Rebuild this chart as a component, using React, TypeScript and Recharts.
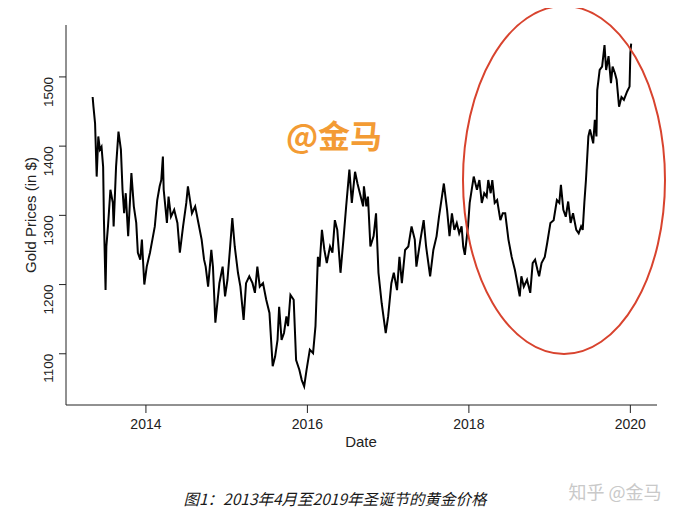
import { Line, LineChart, XAxis, YAxis } from "recharts";

// decimal years, with the matching gold price in $
const dates = [
  2013.34, 2013.35, 2013.37, 2013.39, 2013.41, 2013.43, 2013.45, 2013.47, 2013.48, 2013.5,
  2013.51, 2013.53, 2013.56, 2013.59, 2013.6, 2013.63, 2013.66, 2013.69, 2013.71, 2013.73,
  2013.75, 2013.78, 2013.82, 2013.85, 2013.88, 2013.9, 2013.93, 2013.95, 2013.98, 2014.01,
  2014.05, 2014.08, 2014.11, 2014.14, 2014.17, 2014.19, 2014.21, 2014.22, 2014.26, 2014.28,
  2014.31, 2014.35, 2014.39, 2014.42, 2014.46, 2014.5, 2014.52, 2014.57, 2014.61, 2014.65,
  2014.69, 2014.72, 2014.74, 2014.77, 2014.81, 2014.83, 2014.86, 2014.88, 2014.91, 2014.95,
  2014.98, 2015.01, 2015.04, 2015.07, 2015.1, 2015.14, 2015.17, 2015.21, 2015.24, 2015.28,
  2015.32, 2015.35, 2015.38, 2015.41, 2015.45, 2015.49, 2015.53, 2015.57, 2015.6, 2015.63,
  2015.65, 2015.68, 2015.71, 2015.74, 2015.76, 2015.79, 2015.83, 2015.86, 2015.9, 2015.93,
  2015.96, 2015.99, 2016.03, 2016.07, 2016.1, 2016.13, 2016.15, 2016.18, 2016.21, 2016.24,
  2016.28, 2016.31, 2016.34, 2016.37, 2016.41, 2016.45, 2016.48, 2016.52, 2016.55, 2016.59,
  2016.62, 2016.65, 2016.69, 2016.7, 2016.73, 2016.75, 2016.78, 2016.82, 2016.85, 2016.88,
  2016.92, 2016.97, 2017.0, 2017.04, 2017.07, 2017.11, 2017.14, 2017.17, 2017.21, 2017.25,
  2017.29, 2017.33, 2017.35, 2017.4, 2017.44, 2017.47, 2017.52, 2017.56, 2017.6, 2017.63,
  2017.66, 2017.69, 2017.73, 2017.76, 2017.79, 2017.82, 2017.85, 2017.88, 2017.91, 2017.93,
  2017.95, 2017.99, 2018.01, 2018.06, 2018.1, 2018.13, 2018.16, 2018.19, 2018.22, 2018.24,
  2018.27, 2018.29, 2018.32, 2018.35, 2018.39, 2018.42, 2018.45, 2018.49, 2018.53, 2018.57,
  2018.6, 2018.63, 2018.65, 2018.68, 2018.72, 2018.76, 2018.79, 2018.82, 2018.85, 2018.87,
  2018.9, 2018.94, 2018.97, 2019.01, 2019.05, 2019.09, 2019.12, 2019.14, 2019.17, 2019.2,
  2019.23, 2019.26, 2019.29, 2019.33, 2019.36, 2019.39, 2019.41, 2019.43, 2019.45, 2019.48,
  2019.5, 2019.54, 2019.56, 2019.58, 2019.59, 2019.62, 2019.65, 2019.68, 2019.7, 2019.73,
  2019.76, 2019.78, 2019.81, 2019.83, 2019.86, 2019.89, 2019.92, 2019.96, 2019.99, 2020.0,
  2020.01,
];

const gold = [
  1471, 1457, 1433, 1356, 1414, 1395, 1399, 1370, 1293, 1192,
  1255, 1284, 1337, 1318, 1284, 1370, 1421, 1395, 1337, 1303,
  1332, 1270, 1361, 1313, 1289, 1246, 1236, 1265, 1200, 1226,
  1246, 1265, 1284, 1322, 1342, 1351, 1385, 1337, 1289, 1327,
  1298, 1308, 1289, 1246, 1284, 1318, 1342, 1303, 1313, 1289,
  1265, 1236, 1226, 1197, 1250, 1226, 1145, 1168, 1202, 1226,
  1183, 1207, 1250, 1296, 1255, 1217, 1197, 1149, 1202, 1212,
  1202, 1188, 1226, 1197, 1202, 1178, 1159, 1082, 1096, 1120,
  1168, 1120, 1130, 1154, 1140, 1185, 1178, 1091, 1077, 1062,
  1053, 1077, 1106, 1101, 1140, 1240, 1226, 1279, 1250, 1231,
  1255, 1246, 1293, 1279, 1217, 1270, 1313, 1366, 1318, 1363,
  1346, 1332, 1313, 1342, 1313, 1327, 1255, 1270, 1303, 1217,
  1173, 1130, 1154, 1202, 1217, 1192, 1240, 1202, 1250, 1255,
  1284, 1265, 1226, 1265, 1293, 1255, 1212, 1250, 1270, 1298,
  1322, 1346, 1308, 1270, 1303, 1279, 1289, 1274, 1284, 1255,
  1243, 1285, 1318, 1356, 1337, 1351, 1318, 1332, 1327, 1351,
  1332, 1351, 1318, 1322, 1293, 1303, 1303, 1265, 1240, 1221,
  1202, 1183, 1212, 1197, 1207, 1188, 1231, 1236, 1221, 1212,
  1231, 1240, 1260, 1289, 1293, 1322, 1318, 1344, 1308, 1298,
  1320, 1289, 1303, 1279, 1274, 1284, 1279, 1318, 1351, 1414,
  1424, 1404, 1438, 1414, 1481, 1510, 1515, 1546, 1510, 1530,
  1491, 1515, 1505, 1496, 1457, 1471, 1467, 1479, 1486, 1534,
  1548,
];

const yearTicks = [2014, 2016, 2018, 2020];
const priceTicks = [1100, 1200, 1300, 1400, 1500];

const data = dates.map((t, i) => ({ t, price: gold[i] }));

const FONT = "'Liberation Sans', Arial, sans-serif";
const CJK = "'Noto Sans CJK SC', 'Noto Sans', sans-serif";

function XTick({ x, y, payload }: any) {
  return (
    <text x={x} y={y} dy={14} textAnchor="middle" fontFamily={FONT} fontSize={14} fill="#222">
      {payload.value}
    </text>
  );
}

function YTick({ x, y, payload }: any) {
  return (
    <text
      x={x - 4}
      y={y}
      transform={`rotate(-90 ${x - 4} ${y})`}
      textAnchor="end"
      fontFamily={FONT}
      fontSize={13.5}
      fill="#222"
    >
      {payload.value}
    </text>
  );
}

export default function App() {
  return (
    <div style={{ position: "relative", width: 687, height: 519, margin: -8, background: "#fff" }}>
      <LineChart width={687} height={519} data={data} margin={{ top: 25, right: 30, left: 0, bottom: 84 }}>
        <XAxis
          type="number"
          dataKey="t"
          domain={[2013.01, 2020.33]}
          ticks={yearTicks}
          height={30}
          tickSize={8}
          stroke="#222"
          tick={<XTick />}
          allowDataOverflow
        />
        <YAxis
          type="number"
          domain={[1026, 1575]}
          ticks={priceTicks}
          width={66}
          tickSize={7}
          stroke="#222"
          tick={<YTick />}
          allowDataOverflow
        />
        <Line
          type="linear"
          dataKey="price"
          stroke="#000"
          strokeWidth={2}
          dot={false}
          isAnimationActive={false}
        />
      </LineChart>
      <svg
        width={687}
        height={519}
        style={{ position: "absolute", left: 0, top: 0, pointerEvents: "none" }}
      >
        <text x={361} y={447} textAnchor="middle" fontFamily={FONT} fontSize={15} fill="#222">
          Date
        </text>
        <text
          x={36}
          y={215}
          transform="rotate(-90 36 215)"
          textAnchor="middle"
          fontFamily={FONT}
          fontSize={15}
          fill="#222"
        >
          Gold Prices (in $)
        </text>
        <ellipse cx={564} cy={180} rx={101} ry={174} fill="none" stroke="#D8432E" strokeWidth={2} />
        <text x={334} y={148} textAnchor="middle" fontFamily={CJK} fontWeight={700} fontSize={32} fill="#F39B34">
          @金马
        </text>
        <text
          x={335}
          y={505}
          textAnchor="middle"
          fontFamily={CJK}
          fontStyle="italic"
          fontSize={15.5}
          fill="#1a1a1a"
        >
          图1：2013年4月至2019年圣诞节的黄金价格
        </text>
        <text x={615} y={499} textAnchor="middle" fontFamily={CJK} fontSize={18} fill="#c9c9c9">
          知乎 @金马
        </text>
      </svg>
    </div>
  );
}
